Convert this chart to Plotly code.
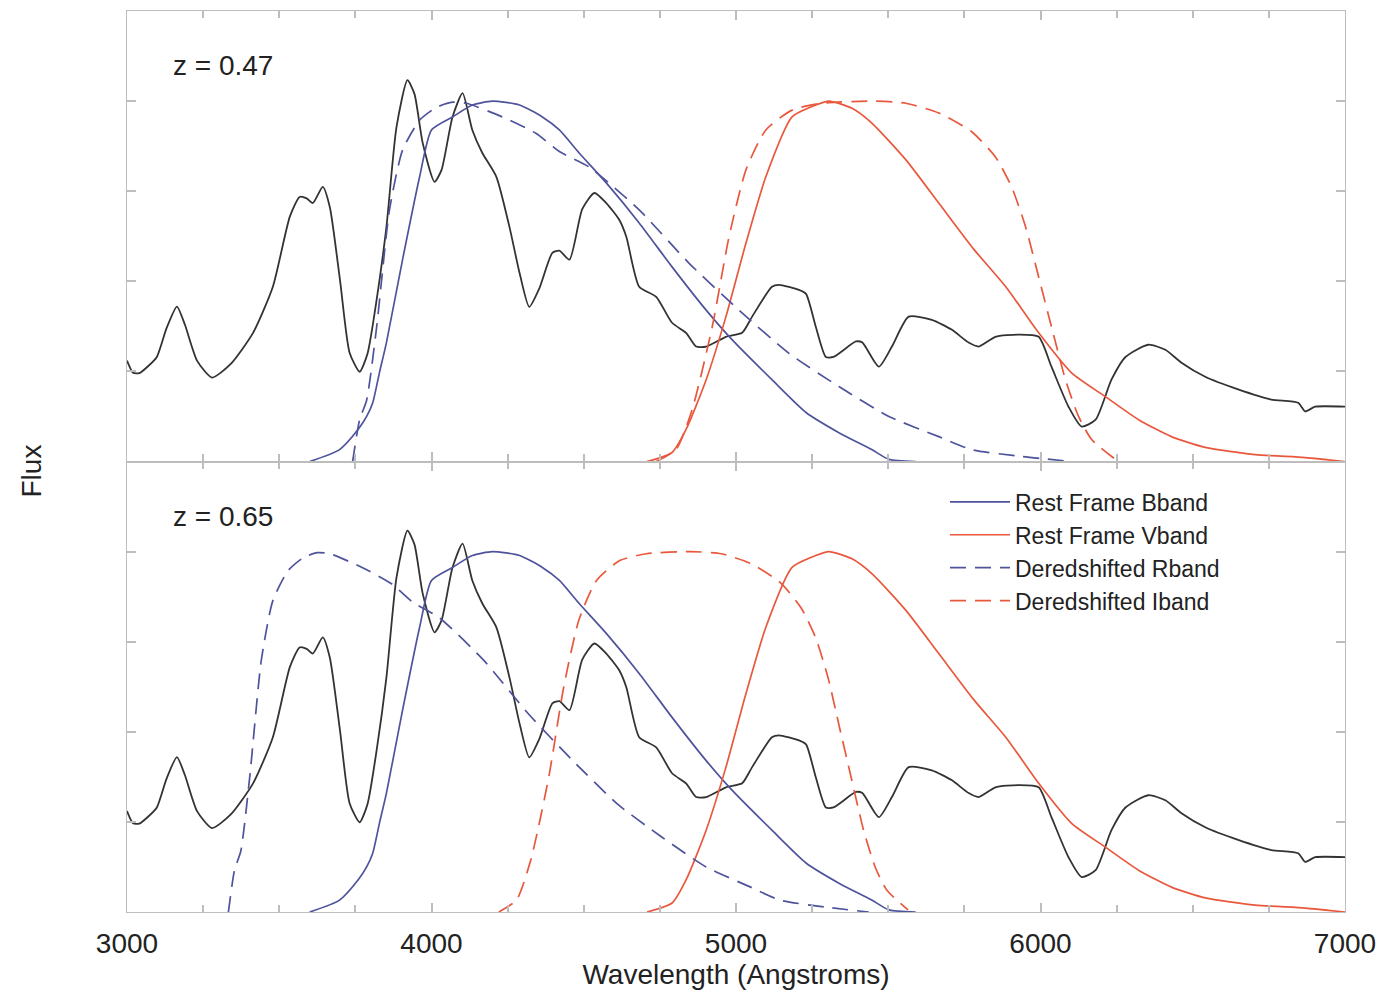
import plotly.graph_objects as go
from plotly.subplots import make_subplots

# ---------------- data ----------------
spec_wave = [3000, 3020, 3040, 3070, 3098, 3130, 3164, 3190, 3230, 3279, 3340, 3414, 3479, 3535,
             3567, 3590, 3610, 3643, 3666, 3700, 3731, 3764, 3790, 3820, 3852, 3885, 3921, 3944,
             3971, 4010, 4033, 4069, 4102, 4134, 4167, 4213, 4256, 4290, 4321, 4354, 4397, 4420,
             4453, 4495, 4535, 4574, 4617, 4640, 4682, 4738, 4790, 4836, 4869, 4902, 4967, 5020,
             5053, 5118, 5141, 5207, 5230, 5262, 5295, 5320, 5394, 5415, 5469, 5512, 5567, 5643,
             5708, 5764, 5797, 5852, 5928, 5994, 6036, 6092, 6135, 6181, 6233, 6279, 6354, 6410,
             6463, 6541, 6649, 6758, 6846, 6869, 6902, 7000]
spec_flux = [0.28, 0.246, 0.245, 0.265, 0.29, 0.37, 0.43, 0.38, 0.28, 0.233, 0.27, 0.357, 0.485, 0.68,
             0.734, 0.73, 0.717, 0.762, 0.706, 0.50, 0.302, 0.249, 0.30, 0.45, 0.651, 0.928, 1.058, 1.02,
             0.884, 0.776, 0.809, 0.956, 1.022, 0.92, 0.856, 0.79, 0.651, 0.52, 0.429, 0.48, 0.579, 0.585,
             0.56, 0.70, 0.745, 0.717, 0.67, 0.623, 0.485, 0.457, 0.385, 0.357, 0.319, 0.319, 0.346, 0.357,
             0.402, 0.485, 0.49, 0.476, 0.465, 0.374, 0.29, 0.29, 0.333, 0.33, 0.263, 0.319, 0.402, 0.393,
             0.366, 0.33, 0.319, 0.346, 0.352, 0.346, 0.263, 0.152, 0.097, 0.116, 0.227, 0.29, 0.324, 0.31,
             0.274, 0.235, 0.2, 0.172, 0.163, 0.139, 0.152, 0.152]

bband_wave = [3600, 3698, 3760, 3787, 3807, 3830, 3852, 3905, 3961, 4000, 4069, 4134, 4200, 4289,
              4364, 4420, 4485, 4574, 4682, 4790, 4902, 4987, 5118, 5230, 5338, 5446, 5502, 5590]
bband_resp = [0, 0.033, 0.09, 0.125, 0.163, 0.25, 0.33, 0.56, 0.79, 0.92, 0.956, 0.989, 1.0, 0.989,
              0.956, 0.92, 0.856, 0.773, 0.662, 0.54, 0.42, 0.338, 0.227, 0.136, 0.08, 0.033, 0.006, 0]

vband_wave = [4708, 4790, 4836, 4902, 4967, 5033, 5098, 5184, 5262, 5305, 5381, 5446, 5558, 5666,
              5780, 5886, 5994, 6102, 6213, 6322, 6430, 6541, 6705, 6869, 7000]
vband_resp = [0, 0.025, 0.089, 0.227, 0.402, 0.607, 0.79, 0.956, 0.989, 1.0, 0.98, 0.939, 0.837, 0.717,
              0.59, 0.485, 0.357, 0.246, 0.18, 0.116, 0.069, 0.039, 0.019, 0.011, 0]

rband_resp = [0, 0.116, 0.17, 0.374, 0.698, 0.864, 0.947, 0.983, 0.997, 0.994, 0.956, 0.91, 0.86,
              0.817, 0.698, 0.55, 0.42, 0.30, 0.208, 0.125, 0.069, 0.033, 0.014, 0]
rband_wave_z047 = [3741, 3764, 3787, 3820, 3862, 3905, 3961, 4017, 4069, 4115, 4233, 4344, 4420,
                   4518, 4682, 4846, 5010, 5174, 5338, 5502, 5666, 5774, 5938, 6102]
rband_wave_z065 = [3333, 3353, 3374, 3403, 3441, 3479, 3529, 3579, 3625, 3666, 3772, 3870, 3938,
                   4025, 4172, 4318, 4464, 4610, 4756, 4902, 5048, 5144, 5290, 5436]

iband_resp = [0, 0.033, 0.144, 0.374, 0.623, 0.81, 0.92, 0.975, 0.994, 1.0, 0.994, 0.967, 0.915,
              0.845, 0.762, 0.651, 0.512, 0.374, 0.227, 0.125, 0.061, 0.006]
iband_wave_z047 = [4738, 4803, 4856, 4922, 4977, 5033, 5098, 5184, 5282, 5446, 5558, 5666, 5774,
                   5852, 5905, 5951, 5994, 6036, 6082, 6125, 6168, 6246]
iband_wave_z065 = [4221, 4279, 4326, 4385, 4434, 4484, 4542, 4618, 4706, 4852, 4952, 5048, 5144,
                   5213, 5261, 5302, 5340, 5378, 5419, 5457, 5495, 5565]

panel_labels = ["z = 0.47", "z = 0.65"]
xtick_vals = [3000, 4000, 5000, 6000, 7000]
xtick_text = ["3000", "4000", "5000", "6000", "7000"]

# ---------------- styles ----------------
BLUE = "#4f539c"
RED = "#e9583d"
BLACK = "#333333"
AXC = "#bdbdbd"
FONT = "Liberation Sans, Arial, Helvetica, sans-serif"
DASH = "16px,9px"

fig = make_subplots(rows=2, cols=1, shared_xaxes=True, vertical_spacing=0)

panels = [(1, rband_wave_z047, iband_wave_z047), (2, rband_wave_z065, iband_wave_z065)]
for row, rw, iw in panels:
    first = row == 2
    fig.add_trace(go.Scatter(x=spec_wave, y=spec_flux, mode="lines",
                             line=dict(color=BLACK, width=1.8, shape="spline", smoothing=0.6),
                             showlegend=False, hoverinfo="skip"), row=row, col=1)
    fig.add_trace(go.Scatter(x=bband_wave, y=bband_resp, mode="lines", name="Rest Frame Bband",
                             line=dict(color=BLUE, width=1.7, shape="spline", smoothing=0.6),
                             showlegend=first, legendrank=1), row=row, col=1)
    fig.add_trace(go.Scatter(x=vband_wave, y=vband_resp, mode="lines", name="Rest Frame Vband",
                             line=dict(color=RED, width=1.7, shape="spline", smoothing=0.6),
                             showlegend=first, legendrank=2), row=row, col=1)
    fig.add_trace(go.Scatter(x=rw, y=rband_resp, mode="lines", name="Deredshifted Rband",
                             line=dict(color=BLUE, width=1.7, dash=DASH, shape="spline", smoothing=0.6),
                             showlegend=first, legendrank=3), row=row, col=1)
    fig.add_trace(go.Scatter(x=iw, y=iband_resp, mode="lines", name="Deredshifted Iband",
                             line=dict(color=RED, width=1.7, dash=DASH, shape="spline", smoothing=0.6),
                             showlegend=first, legendrank=4), row=row, col=1)

xaxis_common = dict(range=[3000, 7000], showline=True, linecolor=AXC, linewidth=1.4, mirror="ticks",
                    ticks="inside", ticklen=9, tickcolor=AXC, tickwidth=1.5,
                    tickvals=xtick_vals, ticktext=xtick_text,
                    minor=dict(dtick=250, tick0=3000, ticks="inside", ticklen=7,
                               tickcolor=AXC, tickwidth=1.5, showgrid=False),
                    showgrid=False, zeroline=False,
                    tickfont=dict(family=FONT, size=28, color="#222"))
fig.update_xaxes(**xaxis_common)
fig.update_xaxes(showticklabels=False, row=1, col=1)
fig.update_xaxes(ticklabelstandoff=6,
                 title=dict(text="Wavelength (Angstroms)", standoff=2,
                            font=dict(family=FONT, size=28, color="#222")), row=2, col=1)
fig.update_yaxes(range=[0, 1.25], tickvals=[0.25, 0.5, 0.75, 1.0], showticklabels=False,
                 showline=True, linecolor=AXC, linewidth=1.4, mirror="ticks",
                 ticks="inside", ticklen=9, tickcolor=AXC, tickwidth=1.5,
                 showgrid=False, zeroline=False)

for txt, yp in zip(panel_labels, [0.940, 0.439]):
    fig.add_annotation(text=txt, xref="paper", yref="paper", x=0.036, y=yp,
                       xanchor="left", yanchor="middle", showarrow=False,
                       font=dict(family=FONT, size=28, color="#222"))
fig.add_annotation(text="Flux", xref="paper", yref="paper", x=-0.078, y=0.49,
                   xanchor="center", yanchor="middle", textangle=-90, showarrow=False,
                   font=dict(family=FONT, size=28, color="#222"))

# page body has an 8px margin, so the figure is sized/offset to place the plot area as in the reference
fig.update_layout(
    width=1372, height=982,
    margin=dict(l=119, r=35, t=3, b=78),
    paper_bgcolor="white", plot_bgcolor="white",
    legend=dict(x=0.6716, y=0.479, xanchor="left", yanchor="top",
                bgcolor="rgba(0,0,0,0)", itemwidth=60,
                font=dict(family=FONT, size=23, color="#222"), tracegroupgap=0),
)

fig.write_html("out.html")
